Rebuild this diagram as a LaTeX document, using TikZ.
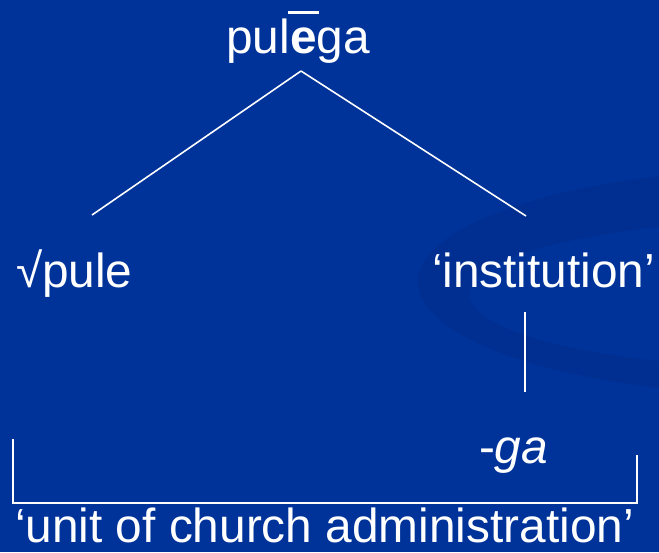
\documentclass[tikz,border=0pt]{standalone}
\usepackage{fontspec}
\setmainfont{Liberation Sans}
\usepackage{tikz}
\definecolor{slideblue}{RGB}{0,51,153}
\definecolor{swooshblue}{RGB}{0,47,145}
\tikzstyle{word}=[inner sep=0pt, outer sep=0pt, text=white, font=\fontsize{27.2}{32}\selectfont]
\tikzstyle{branch}=[draw=white, line width=.9pt]
\newcommand{\longe}{\ooalign{\textbf{e}\cr\hidewidth\raisebox{0.79cm}{\rule{0.62cm}{0.055cm}}\hidewidth\cr}}

\begin{document}
\begin{tikzpicture}[x=0.02cm, y=-0.02cm]
    \useasboundingbox (0,0) rectangle (659,552);
    \fill[slideblue] (0,0) rectangle (659,552);
    \begin{scope}
      \clip (0,0) rectangle (659,552);
      \fill[swooshblue, even odd rule] (800,282) ellipse [x radius=382, y radius=114]
        (825,294) ellipse [x radius=356, y radius=76];
    \end{scope}
    \node[word, anchor=base] (top) at (298,53) {pul\longe ga};
    \node[word, anchor=base west] (root) at (16,287) {√pule};
    \node[word, anchor=base west] (gloss) at (432,287) {‘institution’};
    \node[word, anchor=base west] (suffix) at (479,463) {-\textit{ga}};
    \node[word, anchor=base west] (whole) at (15,542) {‘unit of church administration’};
    \coordinate (apex) at (301,71);
    \coordinate (l1) at (92,215);
    \coordinate (r1) at (526,216);
    \coordinate (g1) at (525,312);
    \coordinate (g2) at (525,392);
    \coordinate (bl) at (13,439);
    \coordinate (br) at (637,455);
    \foreach \from/\to in
      {apex/l1, apex/r1, g1/g2}
    \draw[branch] (\from) -- (\to);
    \draw[branch] (bl) -- (bl |- 0,503) -- (br |- 0,503) -- (br);
\end{tikzpicture}
\end{document}
